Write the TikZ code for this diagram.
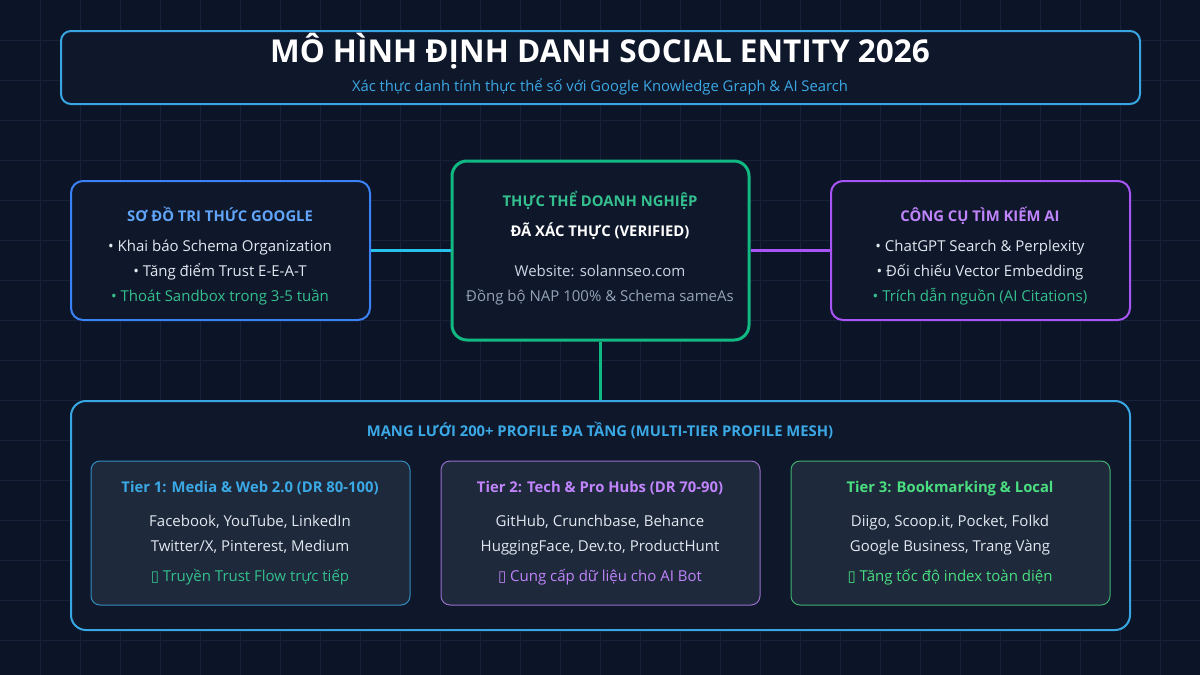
\documentclass[tikz,border=0pt]{standalone}
\usepackage{fontspec}
\setmainfont{Open Sans}
\newfontfamily\symfont{DejaVu Sans}
\usepackage{tikz}

\definecolor{bgnavy}{HTML}{0C1427}
\definecolor{gridnavy}{HTML}{17213A}
\definecolor{panelfill}{HTML}{0F172A}
\definecolor{tierfill}{HTML}{1E293B}
\definecolor{skyline}{HTML}{38A6E2}
\definecolor{skytext}{HTML}{3BA9E6}
\definecolor{blueline}{HTML}{3B82F6}
\definecolor{bluetext}{HTML}{60A5FA}
\definecolor{greenline}{HTML}{10B981}
\definecolor{greentext}{HTML}{34C08E}
\definecolor{purpleline}{HTML}{A855F7}
\definecolor{purpletext}{HTML}{C084FC}
\definecolor{limetext}{HTML}{4ADE80}
\definecolor{softwhite}{HTML}{E2E8F0}
\definecolor{softgray}{HTML}{CBD5E1}
\definecolor{dimgray}{HTML}{94A3B8}

\tikzset{
  panel/.style={draw, fill=panelfill, line width=2pt, rounded corners=12pt, inner sep=0pt},
  tierbox/.style={draw, fill=tierfill, line width=1pt, rounded corners=9pt, inner sep=0pt,
    minimum width=319, minimum height=144},
  head/.style={font=\fontsize{14.8}{17}\selectfont\bfseries, text height=12pt, text depth=2pt, inner sep=0pt},
  body/.style={font=\fontsize{15}{18}\selectfont, text=softwhite, text height=12pt, text depth=2pt, inner sep=0pt},
  link/.style={line width=3pt}
}

\begin{document}
\begin{tikzpicture}[x=1pt,y=-1pt]
\useasboundingbox (0,0) rectangle (1200,675);
\fill[bgnavy] (0,0) rectangle (1200,675);
\foreach \gx in {40,80,...,1160} \draw[gridnavy, line width=1pt] (\gx,0) -- (\gx,675);
\foreach \gy in {40,80,...,640} \draw[gridnavy, line width=1pt] (0,\gy) -- (1200,\gy);

% header
\node[panel, draw=skyline, rounded corners=10pt, minimum width=1079, minimum height=73] (header) at (600.5,67.5) {};
\node[font=\fontsize{31.5}{36}\selectfont\bfseries, text=white, text height=24pt, text depth=2pt, inner sep=0pt] (maintitle) at (600,51) {MÔ HÌNH ĐỊNH DANH SOCIAL ENTITY 2026};
\node[body, font=\fontsize{14.8}{17}\selectfont, text=skytext] (subtitle) at (600,86) {Xác thực danh tính thực thể số với Google Knowledge Graph \& AI Search};

% three top panels
\node[panel, draw=blueline, minimum width=299, minimum height=139] (google) at (220.5,250.5) {};
\node[panel, draw=greenline, line width=3pt, rounded corners=15pt, minimum width=297, minimum height=179] (entity) at (600.5,250.5) {};
\node[panel, draw=purpleline, minimum width=299, minimum height=139] (aisearch) at (980.5,250.5) {};

\node[head, text=bluetext] (googlehead) at (220,216) {SƠ ĐỒ TRI THỨC GOOGLE};
\node[body] (google1) at (220,246) {• Khai báo Schema Organization};
\node[body] (google2) at (220,271) {• Tăng điểm Trust E-E-A-T};
\node[body, text=greentext] (google3) at (220,296) {• Thoát Sandbox trong 3-5 tuần};

\node[head, text=greentext] (entityhead) at (600,201) {THỰC THỂ DOANH NGHIỆP};
\node[head, text=white] (entitysub) at (600,231) {ĐÃ XÁC THỰC (VERIFIED)};
\node[body, text=softgray] (entity1) at (600,271) {Website: solannseo.com};
\node[body, text=dimgray] (entity2) at (600,296) {Đồng bộ NAP 100\% \& Schema sameAs};

\node[head, text=purpletext] (aihead) at (980,216) {CÔNG CỤ TÌM KIẾM AI};
\node[body] (ai1) at (980,246) {• ChatGPT Search \& Perplexity};
\node[body] (ai2) at (980,271) {• Đối chiếu Vector Embedding};
\node[body, text=greentext] (ai3) at (980,296) {• Trích dẫn nguồn (AI Citations)};

% profile mesh
\node[panel, draw=skyline, rounded corners=15pt, minimum width=1059, minimum height=229] (mesh) at (600.5,515.5) {};
\node[head, text=skytext] (meshhead) at (600,431) {MẠNG LƯỚI 200+ PROFILE ĐA TẦNG (MULTI-TIER PROFILE MESH)};

\node[tierbox, draw=skyline!80!tierfill] (tierone) at (250.5,533) {};
\node[tierbox, draw=purpletext!75!tierfill] (tiertwo) at (600.5,533) {};
\node[tierbox, draw=limetext!75!tierfill] (tierthree) at (950.5,533) {};

\node[head, text=skytext] (tieronehead) at (250,487) {Tier 1: Media \& Web 2.0 (DR 80-100)};
\node[body] (tierone1) at (250,521) {Facebook, YouTube, LinkedIn};
\node[body] (tierone2) at (250,546) {Twitter/X, Pinterest, Medium};
\node[body, text=greentext] (tierone3) at (250,576) {{\symfont ▯} Truyền Trust Flow trực tiếp};

\node[head, text=purpletext] (tiertwohead) at (600,487) {Tier 2: Tech \& Pro Hubs (DR 70-90)};
\node[body] (tiertwo1) at (600,521) {GitHub, Crunchbase, Behance};
\node[body] (tiertwo2) at (600,546) {HuggingFace, Dev.to, ProductHunt};
\node[body, text=purpletext] (tiertwo3) at (600,576) {{\symfont ▯} Cung cấp dữ liệu cho AI Bot};

\node[head, text=limetext] (tierthreehead) at (950,487) {Tier 3: Bookmarking \& Local};
\node[body] (tierthree1) at (950,521) {Diigo, Scoop.it, Pocket, Folkd};
\node[body] (tierthree2) at (950,546) {Google Business, Trang Vàng};
\node[body, text=limetext] (tierthree3) at (950,576) {{\symfont ▯} Tăng tốc độ index toàn diện};

% connectors
\draw[link, skyline!70!cyan] (google.east) -- (entity.west);
\draw[link, purpleline] (entity.east) -- (aisearch.west);
\draw[link, greenline] (entity.south) -- (mesh.north);
\end{tikzpicture}
\end{document}
